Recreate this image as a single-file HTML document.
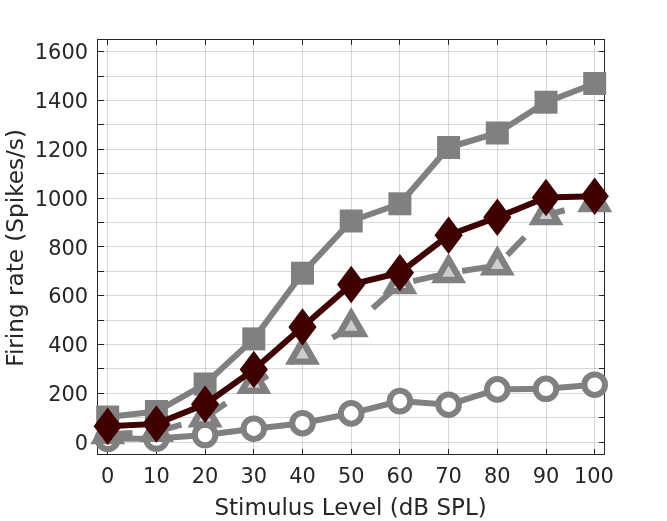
<!DOCTYPE html>
<html><head><meta charset="utf-8"><title>Firing rate</title>
<style>html,body{margin:0;padding:0;background:#fff}svg{display:block}text{font-family:"DejaVu Sans","Liberation Sans",sans-serif;fill:#262626}</style></head><body>
<svg width="667" height="521" viewBox="0 0 667 521">
<rect width="667" height="521" fill="#fff"/>
<path d="M107.5 39.5V454.5M156.5 39.5V454.5M205.5 39.5V454.5M253.5 39.5V454.5M302.5 39.5V454.5M351.5 39.5V454.5M399.5 39.5V454.5M448.5 39.5V454.5M497.5 39.5V454.5M546.5 39.5V454.5M594.5 39.5V454.5" stroke="#262626" stroke-opacity="0.18" stroke-width="1" fill="none"/>
<path d="M97.5 442.5H604.5M97.5 417.5H604.5M97.5 393.5H604.5M97.5 368.5H604.5M97.5 344.5H604.5M97.5 320.5H604.5M97.5 295.5H604.5M97.5 271.5H604.5M97.5 246.5H604.5M97.5 222.5H604.5M97.5 198.5H604.5M97.5 173.5H604.5M97.5 149.5H604.5M97.5 124.5H604.5M97.5 100.5H604.5M97.5 76.5H604.5M97.5 51.5H604.5" stroke="#262626" stroke-opacity="0.18" stroke-width="1" fill="none"/>
<path d="M107.5 454.50v-5.40M107.5 39.50v5.40M156.5 454.50v-5.40M156.5 39.50v5.40M205.5 454.50v-5.40M205.5 39.50v5.40M253.5 454.50v-5.40M253.5 39.50v5.40M302.5 454.50v-5.40M302.5 39.50v5.40M351.5 454.50v-5.40M351.5 39.50v5.40M399.5 454.50v-5.40M399.5 39.50v5.40M448.5 454.50v-5.40M448.5 39.50v5.40M497.5 454.50v-5.40M497.5 39.50v5.40M546.5 454.50v-5.40M546.5 39.50v5.40M594.5 454.50v-5.40M594.5 39.50v5.40M97.50 442.5h6.50M604.50 442.5h-5.50M97.50 417.5h6.50M604.50 417.5h-5.50M97.50 393.5h6.50M604.50 393.5h-5.50M97.50 368.5h6.50M604.50 368.5h-5.50M97.50 344.5h6.50M604.50 344.5h-5.50M97.50 320.5h6.50M604.50 320.5h-5.50M97.50 295.5h6.50M604.50 295.5h-5.50M97.50 271.5h6.50M604.50 271.5h-5.50M97.50 246.5h6.50M604.50 246.5h-5.50M97.50 222.5h6.50M604.50 222.5h-5.50M97.50 198.5h6.50M604.50 198.5h-5.50M97.50 173.5h6.50M604.50 173.5h-5.50M97.50 149.5h6.50M604.50 149.5h-5.50M97.50 124.5h6.50M604.50 124.5h-5.50M97.50 100.5h6.50M604.50 100.5h-5.50M97.50 76.5h6.50M604.50 76.5h-5.50M97.50 51.5h6.50M604.50 51.5h-5.50" stroke="#262626" stroke-width="1" fill="none"/>
<rect x="97.50" y="39.50" width="507.00" height="415.00" fill="none" stroke="#262626" stroke-width="1"/>
<g stroke="#808080" stroke-width="6" fill="none">
<polyline points="107.70,438.80 156.40,438.50 205.10,435.00 253.80,428.70 302.50,423.20 351.20,413.40 399.90,401.10 448.60,404.70 497.30,389.40 546.00,388.80 594.70,384.70"/>
<circle cx="107.70" cy="438.80" r="10.3" fill="#fff"/>
<circle cx="156.40" cy="438.50" r="10.3" fill="#fff"/>
<circle cx="205.10" cy="435.00" r="10.3" fill="#fff"/>
<circle cx="253.80" cy="428.70" r="10.3" fill="#fff"/>
<circle cx="302.50" cy="423.20" r="10.3" fill="#fff"/>
<circle cx="351.20" cy="413.40" r="10.3" fill="#fff"/>
<circle cx="399.90" cy="401.10" r="10.3" fill="#fff"/>
<circle cx="448.60" cy="404.70" r="10.3" fill="#fff"/>
<circle cx="497.30" cy="389.40" r="10.3" fill="#fff"/>
<circle cx="546.00" cy="388.80" r="10.3" fill="#fff"/>
<circle cx="594.70" cy="384.70" r="10.3" fill="#fff"/>
</g>
<g fill="#808080">
<polyline points="107.70,417.00 156.40,411.50 205.10,384.00 253.80,338.90 302.50,273.20 351.20,221.00 399.90,203.80 448.60,147.50 497.30,133.00 546.00,102.20 594.70,83.50" stroke="#808080" stroke-width="6" fill="none"/>
<rect x="96.20" y="405.50" width="23" height="23"/>
<rect x="144.90" y="400.00" width="23" height="23"/>
<rect x="193.60" y="372.50" width="23" height="23"/>
<rect x="242.30" y="327.40" width="23" height="23"/>
<rect x="291.00" y="261.70" width="23" height="23"/>
<rect x="339.70" y="209.50" width="23" height="23"/>
<rect x="388.40" y="192.30" width="23" height="23"/>
<rect x="437.10" y="136.00" width="23" height="23"/>
<rect x="485.80" y="121.50" width="23" height="23"/>
<rect x="534.50" y="90.70" width="23" height="23"/>
<rect x="583.20" y="72.00" width="23" height="23"/>
</g>
<g stroke="#808080" stroke-width="6.4" fill="#cccccc" stroke-linejoin="miter">
<polyline points="107.70,434.20 156.40,431.90 205.10,417.50 253.80,384.00 302.50,354.70 351.20,327.10 399.90,284.20 448.60,273.10 497.30,265.40 546.00,215.20 594.70,202.20" fill="none" stroke-width="6" stroke-dasharray="24.8 25.2"/>
<path d="M107.70 420.40L119.65 441.10L95.75 441.10Z"/>
<path d="M156.40 418.10L168.35 438.80L144.45 438.80Z"/>
<path d="M205.10 403.70L217.05 424.40L193.15 424.40Z"/>
<path d="M253.80 370.20L265.75 390.90L241.85 390.90Z"/>
<path d="M302.50 340.90L314.45 361.60L290.55 361.60Z"/>
<path d="M351.20 313.30L363.15 334.00L339.25 334.00Z"/>
<path d="M399.90 270.40L411.85 291.10L387.95 291.10Z"/>
<path d="M448.60 259.30L460.55 280.00L436.65 280.00Z"/>
<path d="M497.30 251.60L509.25 272.30L485.35 272.30Z"/>
<path d="M546.00 201.40L557.95 222.10L534.05 222.10Z"/>
<path d="M594.70 188.40L606.65 209.10L582.75 209.10Z"/>
</g>
<g fill="#3f0000">
<polyline points="107.70,426.20 156.40,423.90 205.10,404.30 253.80,369.60 302.50,327.00 351.20,284.50 399.90,272.75 448.60,235.25 497.30,217.25 546.00,197.45 594.70,196.30" stroke="#3f0000" stroke-width="6" fill="none"/>
<path d="M107.70 407.45L121.80 426.20L107.70 444.95L93.60 426.20Z"/>
<path d="M156.40 405.15L170.50 423.90L156.40 442.65L142.30 423.90Z"/>
<path d="M205.10 385.55L219.20 404.30L205.10 423.05L191.00 404.30Z"/>
<path d="M253.80 350.85L267.90 369.60L253.80 388.35L239.70 369.60Z"/>
<path d="M302.50 308.25L316.60 327.00L302.50 345.75L288.40 327.00Z"/>
<path d="M351.20 265.75L365.30 284.50L351.20 303.25L337.10 284.50Z"/>
<path d="M399.90 254.00L414.00 272.75L399.90 291.50L385.80 272.75Z"/>
<path d="M448.60 216.50L462.70 235.25L448.60 254.00L434.50 235.25Z"/>
<path d="M497.30 198.50L511.40 217.25L497.30 236.00L483.20 217.25Z"/>
<path d="M546.00 178.70L560.10 197.45L546.00 216.20L531.90 197.45Z"/>
<path d="M594.70 177.55L608.80 196.30L594.70 215.05L580.60 196.30Z"/>
</g>
<g font-size="20.9px">
<text x="107.70" y="483.2" text-anchor="middle">0</text>
<text x="156.40" y="483.2" text-anchor="middle">10</text>
<text x="205.10" y="483.2" text-anchor="middle">20</text>
<text x="253.80" y="483.2" text-anchor="middle">30</text>
<text x="302.50" y="483.2" text-anchor="middle">40</text>
<text x="351.20" y="483.2" text-anchor="middle">50</text>
<text x="399.90" y="483.2" text-anchor="middle">60</text>
<text x="448.60" y="483.2" text-anchor="middle">70</text>
<text x="497.30" y="483.2" text-anchor="middle">80</text>
<text x="546.00" y="483.2" text-anchor="middle">90</text>
<text x="593.90" y="483.2" text-anchor="middle">100</text>
<text x="88" y="449.70" text-anchor="end">0</text>
<text x="88" y="400.90" text-anchor="end">200</text>
<text x="88" y="352.10" text-anchor="end">400</text>
<text x="88" y="303.30" text-anchor="end">600</text>
<text x="88" y="254.50" text-anchor="end">800</text>
<text x="88" y="205.70" text-anchor="end">1000</text>
<text x="88" y="156.90" text-anchor="end">1200</text>
<text x="88" y="108.10" text-anchor="end">1400</text>
<text x="88" y="59.30" text-anchor="end">1600</text>
</g>
<text x="350.6" y="515" font-size="23px" text-anchor="middle">Stimulus Level (dB SPL)</text>
<text transform="translate(23,247.9) rotate(-90)" font-size="23.15px" text-anchor="middle">Firing rate (Spikes/s)</text>
</svg></body></html>
